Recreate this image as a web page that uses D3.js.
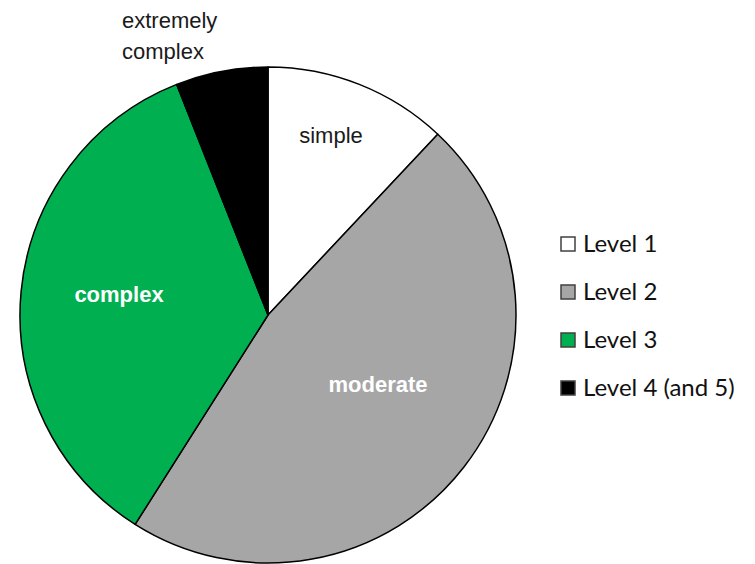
<!DOCTYPE html>
<html>
<head>
<meta charset="utf-8">
<script src="https://cdn.jsdelivr.net/npm/d3@7"></script>
<style>
  body { margin: 0; background: #fff; }
  svg { display: block; }
</style>
</head>
<body>
<svg id="chart" width="755" height="564"></svg>
<script>
// data (percent of cases)
var levels = ["Level 1", "Level 2", "Level 3", "Level 4 (and 5)"];
var shares = [12, 47, 35, 6];
var sliceLabels = [["simple"], ["moderate"], ["complex"], ["extremely", "complex"]];
var colors = ["#ffffff", "#a6a6a6", "#00b050", "#000000"];

var svg = d3.select("#chart");
var cx = 268, cy = 315, radius = 248;

var color = d3.scaleOrdinal().domain(levels).range(colors);

var pie = d3.pie().sort(null).value(function(d) { return d.value; });
var arc = d3.arc().innerRadius(0).outerRadius(radius);

var rows = levels.map(function(l, i) {
  return { level: l, value: shares[i], label: sliceLabels[i] };
});

var g = svg.append("g").attr("transform", "translate(" + cx + "," + cy + ")");

g.selectAll("path")
  .data(pie(rows))
  .enter().append("path")
  .attr("d", arc)
  .attr("fill", function(d) { return color(d.data.level); })
  .attr("stroke", "#000")
  .attr("stroke-width", 1.5)
  .attr("stroke-linejoin", "round");

// label placement: offset from the pie centre, per slice
var labelPos = {
  "Level 1": { x: 63, y: -172, anchor: "middle", fill: "#1a1a1a", weight: "normal" },
  "Level 2": { x: 110, y: 77, anchor: "middle", fill: "#fff", weight: "bold" },
  "Level 3": { x: -149, y: -13, anchor: "middle", fill: "#fff", weight: "bold" },
  "Level 4 (and 5)": { x: -146, y: -287, anchor: "start", fill: "#1a1a1a", weight: "normal" }
};

g.selectAll("text.slice")
  .data(pie(rows))
  .enter().append("text")
  .attr("class", "slice")
  .attr("font-family", "'Liberation Sans', Arial, sans-serif")
  .attr("font-size", 22)
  .attr("font-weight", function(d) { return labelPos[d.data.level].weight; })
  .attr("fill", function(d) { return labelPos[d.data.level].fill; })
  .attr("text-anchor", function(d) { return labelPos[d.data.level].anchor; })
  .each(function(d) {
    var p = labelPos[d.data.level];
    d3.select(this).selectAll("tspan")
      .data(d.data.label)
      .enter().append("tspan")
      .attr("x", p.x)
      .attr("y", function(t, i) { return p.y + i * 31; })
      .text(function(t) { return t; });
  });

// legend
var legend = svg.append("g").attr("transform", "translate(561,237)");
var item = legend.selectAll("g")
  .data(levels)
  .enter().append("g")
  .attr("transform", function(d, i) { return "translate(0," + (i * 48) + ")"; });

item.append("rect")
  .attr("width", 14)
  .attr("height", 14)
  .attr("fill", function(d) { return color(d); })
  .attr("stroke", "#404040")
  .attr("stroke-width", 1.5);

item.append("text")
  .attr("x", 22)
  .attr("y", 15)
  .attr("font-family", "Lato, 'Open Sans', sans-serif")
  .attr("font-size", 24)
  .attr("fill", "#111")
  .text(function(d) { return d; });
</script>
</body>
</html>
